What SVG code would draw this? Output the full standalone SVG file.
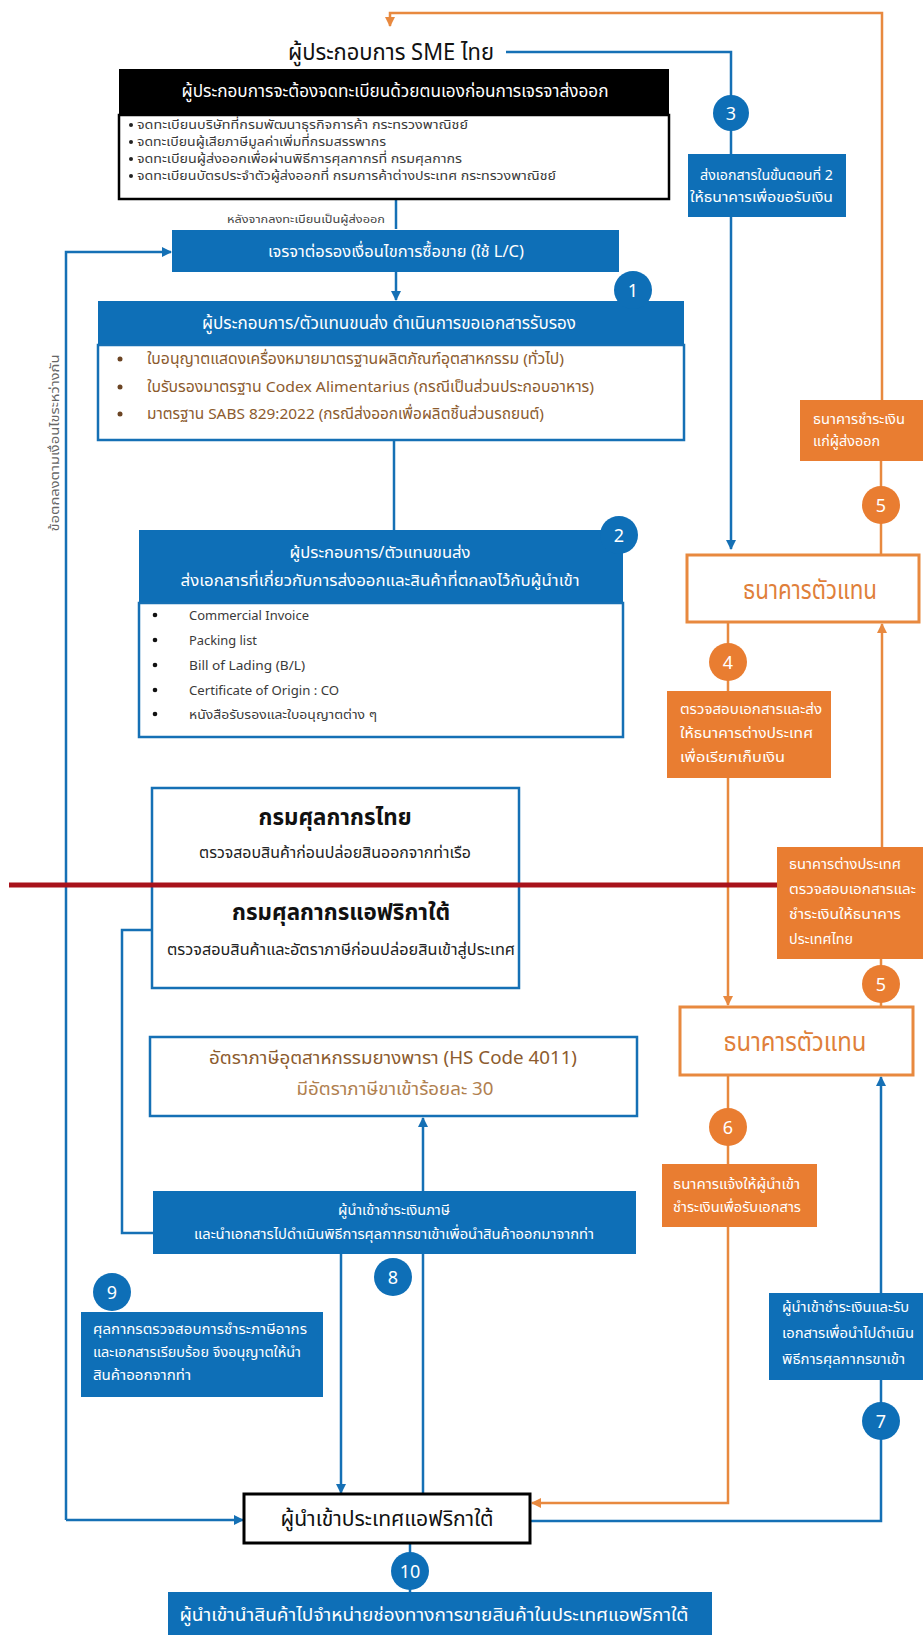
<svg xmlns="http://www.w3.org/2000/svg" width="923" height="1635" viewBox="0 0 923 1635">
<defs>
<style>
text{font-family:"Noto Sans Thai","Noto Sans","DejaVu Sans",sans-serif;}
.w{fill:#ffffff}
.bf{fill:#0E6FB7}
.of{fill:#E97D31}
.bl{stroke:#1570B5;stroke-width:2.5;fill:none}
.ol{stroke:#E8893F;stroke-width:2.5;fill:none}
.c{text-anchor:middle}
.num{font-size:18px;fill:#fff;text-anchor:middle}
.sm{font-size:13.5px;fill:#fff}
.brn{fill:#8C5B2E}
.gry{fill:#3a3a3a}
</style>
<marker id="ab" viewBox="0 0 10 10" refX="9" refY="5" markerWidth="4" markerHeight="4" orient="auto"><path d="M0,0 L10,5 L0,10 z" fill="#1570B5"/></marker>
<marker id="ao" viewBox="0 0 10 10" refX="9" refY="5" markerWidth="4" markerHeight="4" orient="auto"><path d="M0,0 L10,5 L0,10 z" fill="#E8893F"/></marker>
</defs>
<rect width="923" height="1635" fill="#ffffff"/>

<g id="connectors">
<path class="ol" d="M882,400 V13 H390 V26" marker-end="url(#ao)"/>
<path class="ol" d="M881,555 V461"/>
<path class="bl" d="M506,52 H731 V549" marker-end="url(#ab)"/>
<path class="ol" d="M728,622 V1005" marker-end="url(#ao)"/>
<path class="ol" d="M882,847 V624" marker-end="url(#ao)"/>
<path class="ol" d="M881,1007 V959"/>
<path class="ol" d="M728,1075 V1164"/>
<path class="ol" d="M728,1227 V1503 H532" marker-end="url(#ao)"/>
<path class="bl" d="M530,1521 H881 V1380"/>
<path class="bl" d="M881,1293 V1077" marker-end="url(#ab)"/>
<path class="bl" d="M66,1520 V252 H171" marker-end="url(#ab)"/>
<path class="bl" d="M66,1520 H243" marker-end="url(#ab)"/>
<path class="bl" d="M396,199 V229"/>
<path class="bl" d="M396,272 V300" marker-end="url(#ab)"/>
<path class="bl" d="M394,440 V530"/>
<path class="bl" d="M152,930 H122 V1233 H153"/>
<path class="bl" d="M341,1254 V1493" marker-end="url(#ab)"/>
<path class="bl" d="M423,1494 V1118" marker-end="url(#ab)"/>
<path class="bl" d="M410,1543 V1592"/>
</g>

<g id="title">
<text x="391" y="60" class="c" font-size="23" fill="#111" textLength="206" lengthAdjust="spacingAndGlyphs">ผู้ประกอบการ SME ไทย</text>
</g>

<g id="register">
<rect x="119" y="69" width="550" height="46" fill="#000"/>
<rect x="119" y="115" width="550" height="84" fill="#fff" stroke="#000" stroke-width="2.5"/>
<text x="395" y="97" class="c w" font-size="17" textLength="427" lengthAdjust="spacingAndGlyphs">ผู้ประกอบการจะต้องจดทะเบียนด้วยตนเองก่อนการเจรจาส่งออก</text>
<g font-size="12.5" class="gry">
<circle cx="131" cy="125" r="2" fill="#222"/><text x="137" y="129" textLength="331" lengthAdjust="spacingAndGlyphs">จดทะเบียนบริษัทที่กรมพัฒนาธุรกิจการค้า กระทรวงพาณิชย์</text>
<circle cx="131" cy="142" r="2" fill="#222"/><text x="137" y="146" textLength="249" lengthAdjust="spacingAndGlyphs">จดทะเบียนผู้เสียภาษีมูลค่าเพิ่มที่กรมสรรพากร</text>
<circle cx="131" cy="159" r="2" fill="#222"/><text x="137" y="163" textLength="325" lengthAdjust="spacingAndGlyphs">จดทะเบียนผู้ส่งออกเพื่อผ่านพิธีการศุลกากรที่ กรมศุลกากร</text>
<circle cx="131" cy="176" r="2" fill="#222"/><text x="137" y="180" textLength="419" lengthAdjust="spacingAndGlyphs">จดทะเบียนบัตรประจำตัวผู้ส่งออกที่ กรมการค้าต่างประเทศ กระทรวงพาณิชย์</text>
</g>
</g>

<g id="note">
<text x="227" y="223" font-size="11" fill="#444" textLength="158" lengthAdjust="spacingAndGlyphs">หลังจากลงทะเบียนเป็นผู้ส่งออก</text>
</g>

<g id="negotiate">
<rect x="172" y="230" width="447" height="42" class="bf"/>
<text x="396" y="257" class="c w" font-size="16" textLength="256" lengthAdjust="spacingAndGlyphs">เจรจาต่อรองเงื่อนไขการซื้อขาย (ใช้ L/C)</text>
</g>

<g id="step1">
<rect x="98" y="301" width="586" height="44" class="bf"/>
<rect x="98" y="345" width="586" height="95" fill="#fff" stroke="#1570B5" stroke-width="2.5"/>
<text x="389" y="329" class="c w" font-size="17" textLength="374" lengthAdjust="spacingAndGlyphs">ผู้ประกอบการ/ตัวแทนขนส่ง ดำเนินการขอเอกสารรับรอง</text>
<g font-size="15" class="brn">
<circle cx="120" cy="359" r="2.5" fill="#6b4423"/><text x="147" y="364" textLength="417" lengthAdjust="spacingAndGlyphs">ใบอนุญาตแสดงเครื่องหมายมาตรฐานผลิตภัณฑ์อุตสาหกรรม (ทั่วไป)</text>
<circle cx="120" cy="387" r="2.5" fill="#6b4423"/><text x="147" y="392" textLength="447" lengthAdjust="spacingAndGlyphs">ใบรับรองมาตรฐาน Codex Alimentarius (กรณีเป็นส่วนประกอบอาหาร)</text>
<circle cx="120" cy="414" r="2.5" fill="#6b4423"/><text x="147" y="419" textLength="397" lengthAdjust="spacingAndGlyphs">มาตรฐาน SABS 829:2022 (กรณีส่งออกเพื่อผลิตชิ้นส่วนรถยนต์)</text>
</g>
<circle cx="633" cy="290" r="19" class="bf"/><text x="633" y="297" class="num">1</text>
</g>

<g id="step2">
<rect x="139" y="530" width="484" height="73" class="bf"/>
<rect x="139" y="603" width="484" height="134" fill="#fff" stroke="#1570B5" stroke-width="2.5"/>
<text x="380" y="558" class="c w" font-size="15.5" textLength="181" lengthAdjust="spacingAndGlyphs">ผู้ประกอบการ/ตัวแทนขนส่ง</text>
<text x="380" y="586" class="c w" font-size="15.5" textLength="399" lengthAdjust="spacingAndGlyphs">ส่งเอกสารที่เกี่ยวกับการส่งออกและสินค้าที่ตกลงไว้กับผู้นำเข้า</text>
<g font-size="12.5" class="gry">
<circle cx="155" cy="615" r="2.3" fill="#111"/><text x="189" y="620" textLength="120" lengthAdjust="spacingAndGlyphs">Commercial Invoice</text>
<circle cx="155" cy="640" r="2.3" fill="#111"/><text x="189" y="645" textLength="68" lengthAdjust="spacingAndGlyphs">Packing list</text>
<circle cx="155" cy="665" r="2.3" fill="#111"/><text x="189" y="670" textLength="116" lengthAdjust="spacingAndGlyphs">Bill of Lading (B/L)</text>
<circle cx="155" cy="690" r="2.3" fill="#111"/><text x="189" y="695" textLength="150" lengthAdjust="spacingAndGlyphs">Certificate of Origin : CO</text>
<circle cx="155" cy="714" r="2.3" fill="#111"/><text x="189" y="719" textLength="188" lengthAdjust="spacingAndGlyphs">หนังสือรับรองและใบอนุญาตต่าง ๆ</text>
</g>
<circle cx="619" cy="535" r="19" class="bf"/><text x="619" y="542" class="num">2</text>
</g>

<g id="customs">
<rect x="152" y="788" width="367" height="200" fill="#fff" stroke="#1570B5" stroke-width="2.5"/>
<text x="335" y="825" class="c" font-size="23" font-weight="bold" fill="#111" textLength="153" lengthAdjust="spacingAndGlyphs">กรมศุลกากรไทย</text>
<text x="335" y="858" class="c" font-size="15" fill="#222" textLength="272" lengthAdjust="spacingAndGlyphs">ตรวจสอบสินค้าก่อนปล่อยสินออกจากท่าเรือ</text>
<text x="341" y="920" class="c" font-size="23" font-weight="bold" fill="#111" textLength="218" lengthAdjust="spacingAndGlyphs">กรมศุลกากรแอฟริกาใต้</text>
<text x="341" y="955" class="c" font-size="15" fill="#222" textLength="348" lengthAdjust="spacingAndGlyphs">ตรวจสอบสินค้าและอัตราภาษีก่อนปล่อยสินเข้าสู่ประเทศ</text>
</g>

<g id="border-line">
<line x1="9" y1="885" x2="777" y2="885" stroke="#A8121B" stroke-width="5"/>
</g>

<g id="tariff">
<rect x="150" y="1037" width="487" height="79" fill="#fff" stroke="#1570B5" stroke-width="2.5"/>
<text x="393" y="1064" class="c" font-size="18" fill="#8C5B2E" textLength="368" lengthAdjust="spacingAndGlyphs">อัตราภาษีอุตสาหกรรมยางพารา (HS Code 4011)</text>
<text x="395" y="1095" class="c" font-size="18" fill="#B0804F" textLength="197" lengthAdjust="spacingAndGlyphs">มีอัตราภาษีขาเข้าร้อยละ 30</text>
</g>

<g id="duty">
<rect x="153" y="1191" width="483" height="63" class="bf"/>
<text x="394" y="1215" class="c w" font-size="14.5" textLength="112" lengthAdjust="spacingAndGlyphs">ผู้นำเข้าชำระเงินภาษี</text>
<text x="394" y="1239" class="c w" font-size="14.5" textLength="400" lengthAdjust="spacingAndGlyphs">และนำเอกสารไปดำเนินพิธีการศุลกากรขาเข้าเพื่อนำสินค้าออกมาจากท่า</text>
<circle cx="393" cy="1277" r="19" class="bf"/><text x="393" y="1284" class="num">8</text>
</g>

<g id="step9">
<rect x="81" y="1312" width="242" height="85" class="bf"/>
<text x="93" y="1334" class="w" font-size="14.5" textLength="214" lengthAdjust="spacingAndGlyphs">ศุลกากรตรวจสอบการชำระภาษีอากร</text>
<text x="93" y="1357" class="w" font-size="14.5" textLength="208" lengthAdjust="spacingAndGlyphs">และเอกสารเรียบร้อย จึงอนุญาตให้นำ</text>
<text x="93" y="1380" class="w" font-size="14.5" textLength="98" lengthAdjust="spacingAndGlyphs">สินค้าออกจากท่า</text>
<circle cx="112" cy="1292" r="19" class="bf"/><text x="112" y="1299" class="num">9</text>
</g>

<g id="importer">
<rect x="244" y="1494" width="286" height="49" fill="#fff" stroke="#000" stroke-width="3"/>
<text x="387" y="1526" class="c" font-size="22" fill="#111" textLength="213" lengthAdjust="spacingAndGlyphs">ผู้นำเข้าประเทศแอฟริกาใต้</text>
</g>

<g id="step10">
<circle cx="410" cy="1571" r="19" class="bf"/><text x="410" y="1578" class="num">10</text>
<rect x="168" y="1592" width="544" height="45" class="bf"/>
<text x="434" y="1621" class="c w" font-size="18.5" textLength="509" lengthAdjust="spacingAndGlyphs">ผู้นำเข้านำสินค้าไปจำหน่ายช่องทางการขายสินค้าในประเทศแอฟริกาใต้</text>
</g>

<g id="step3">
<circle cx="731" cy="113" r="18" class="bf"/><text x="731" y="120" class="num">3</text>
<rect x="688" y="154" width="158" height="63" class="bf"/>
<text x="700" y="180" class="sm" textLength="133" lengthAdjust="spacingAndGlyphs">ส่งเอกสารในขั้นตอนที่ 2</text>
<text x="690" y="202" class="sm" textLength="143" lengthAdjust="spacingAndGlyphs">ให้ธนาคารเพื่อขอรับเงิน</text>
</g>

<g id="pay-exporter">
<rect x="800" y="400" width="123" height="61" class="of"/>
<text x="813" y="424" class="sm" textLength="92" lengthAdjust="spacingAndGlyphs">ธนาคารชำระเงิน</text>
<text x="813" y="446" class="sm" textLength="67" lengthAdjust="spacingAndGlyphs">แก่ผู้ส่งออก</text>
<circle cx="881" cy="505" r="19" class="of"/><text x="881" y="512" class="num">5</text>
</g>

<g id="bank-th">
<rect x="687" y="555" width="232" height="67" fill="#fff" stroke="#E8893F" stroke-width="3"/>
<text x="810" y="599" class="c" font-size="26" fill="#E07F3A" textLength="134" lengthAdjust="spacingAndGlyphs">ธนาคารตัวแทน</text>
</g>

<g id="step4">
<circle cx="728" cy="662" r="19" class="of"/><text x="728" y="669" class="num">4</text>
<rect x="667" y="691" width="164" height="87" class="of"/>
<text x="680" y="714" class="sm" textLength="142" lengthAdjust="spacingAndGlyphs">ตรวจสอบเอกสารและส่ง</text>
<text x="680" y="738" class="sm" textLength="133" lengthAdjust="spacingAndGlyphs">ให้ธนาคารต่างประเทศ</text>
<text x="680" y="762" class="sm" textLength="105" lengthAdjust="spacingAndGlyphs">เพื่อเรียกเก็บเงิน</text>
</g>

<g id="foreign-bank">
<rect x="777" y="847" width="146" height="112" class="of"/>
<text x="789" y="869" class="sm" textLength="112" lengthAdjust="spacingAndGlyphs">ธนาคารต่างประเทศ</text>
<text x="789" y="894" class="sm" textLength="127" lengthAdjust="spacingAndGlyphs">ตรวจสอบเอกสารและ</text>
<text x="789" y="919" class="sm" textLength="112" lengthAdjust="spacingAndGlyphs">ชำระเงินให้ธนาคาร</text>
<text x="789" y="944" class="sm" textLength="64" lengthAdjust="spacingAndGlyphs">ประเทศไทย</text>
<circle cx="881" cy="984" r="19" class="of"/><text x="881" y="991" class="num">5</text>
</g>

<g id="bank-za">
<rect x="680" y="1007" width="233" height="68" fill="#fff" stroke="#E8893F" stroke-width="3"/>
<text x="795" y="1051" class="c" font-size="26" fill="#E07F3A" textLength="143" lengthAdjust="spacingAndGlyphs">ธนาคารตัวแทน</text>
</g>

<g id="step6">
<circle cx="728" cy="1127" r="19" class="of"/><text x="728" y="1134" class="num">6</text>
<rect x="662" y="1164" width="155" height="63" class="of"/>
<text x="673" y="1189" class="sm" textLength="127" lengthAdjust="spacingAndGlyphs">ธนาคารแจ้งให้ผู้นำเข้า</text>
<text x="673" y="1212" class="sm" textLength="128" lengthAdjust="spacingAndGlyphs">ชำระเงินเพื่อรับเอกสาร</text>
</g>

<g id="step7">
<rect x="769" y="1293" width="154" height="87" class="bf"/>
<text x="782" y="1312" class="sm" textLength="127" lengthAdjust="spacingAndGlyphs">ผู้นำเข้าชำระเงินและรับ</text>
<text x="782" y="1338" class="sm" textLength="132" lengthAdjust="spacingAndGlyphs">เอกสารเพื่อนำไปดำเนิน</text>
<text x="782" y="1364" class="sm" textLength="123" lengthAdjust="spacingAndGlyphs">พิธีการศุลกากรขาเข้า</text>
<circle cx="881" cy="1421" r="19" class="bf"/><text x="881" y="1428" class="num">7</text>
</g>

<g id="side-label">
<text transform="translate(59,443) rotate(-90)" class="c" font-size="11.5" fill="#666" textLength="177" lengthAdjust="spacingAndGlyphs">ข้อตกลงตามเงื่อนไขระหว่างกัน</text>
</g>
</svg>
